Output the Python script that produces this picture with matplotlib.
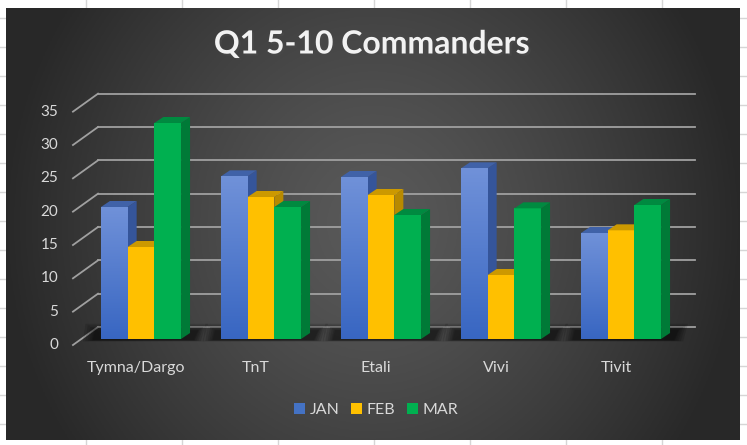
import numpy as np
import matplotlib.pyplot as plt
import matplotlib.patheffects as pe
from matplotlib.patches import Polygon

# data
categories = ["Tymna/Dargo", "TnT", "Etali", "Vivi", "Tivit"]
series = ["JAN", "FEB", "MAR"]
jan = [19.8, 24.4, 24.3, 25.6, 15.9]
feb = [13.8, 21.3, 21.6, 9.6, 16.3]
mar = [32.4, 19.8, 18.6, 19.6, 20.1]
y_ticks = [0, 5, 10, 15, 20, 25, 30, 35]

# styles: front, side, top
colors = {
    "JAN": ("#4472c4", "#35559a", "#4062a8"),
    "FEB": ("#ffc000", "#b88a00", "#cc9900"),
    "MAR": ("#00b050", "#007a37", "#008a40"),
}
jan_top, jan_bottom = np.array([0.44, 0.57, 0.85]), np.array([0.22, 0.40, 0.76])
text_col = "#d9d9d9"
grid_col = "#a0a0a0"
font = "Lato"

W, H = 747, 445
fig = plt.figure(figsize=(W / 100, H / 100), dpi=100)

# spreadsheet cells behind the chart
bg = fig.add_axes([0, 0, 1, 1])
bg.set_xlim(0, W)
bg.set_ylim(H, 0)
bg.axis("off")
for xc in np.arange(-10, W, 96):
    bg.axvline(xc, color="#d6d6d6", lw=1)
for yc in np.arange(18, H, 29):
    bg.axhline(yc, color="#d6d6d6", lw=1)

# chart area, pixels (6,8)-(740,440); data units: 120 px / category, 6.667 px / unit
px_cat, px_val = 120.0, 6.667
x0_px, y0_px = 141.0, 339.0
left, right, top, bottom = 6, 740, 8, 440
ax = fig.add_axes([left / W, (H - bottom) / H, (right - left) / W, (bottom - top) / H])
xlim = ((left - x0_px) / px_cat, (right - x0_px) / px_cat)
ylim = ((y0_px - bottom) / px_val, (y0_px - top) / px_val)

# dark radial gradient
gx, gy = np.meshgrid(np.linspace(-1, 1, 300), np.linspace(-1, 1, 200))
r = np.clip(np.sqrt(gx ** 2 + (0.55 * gy) ** 2), 0, 1)
shade = 0.35 - (0.35 - 0.16) * r ** 1.3
img = np.dstack([shade, shade, shade])
ax.imshow(img, extent=[xlim[0], xlim[1], ylim[0], ylim[1]], aspect="auto", zorder=0)

# depth geometry
front_dx, front_dy = -0.567, -0.9
back_dx0, back_dx1, back_dy = -0.358, 4.617, 1.8
bar_dx, bar_dy = 0.075, 0.9

for t in y_ticks:
    ax.plot([back_dx0, back_dx1], [t + back_dy] * 2, color=grid_col, lw=1.3, zorder=1)
    ax.plot([front_dx, back_dx0], [t + front_dy, t + back_dy], color=grid_col, lw=1.3, zorder=1)
    ax.text(-0.69, t + front_dy, str(t), ha="right", va="center", color=text_col,
            fontsize=11, family=font)

x = np.arange(len(categories))
w = 0.2225

# soft floor shadow under each group
for xi in x:
    xl, xr = xi - 1.5 * w, xi + 1.5 * w + bar_dx
    for grow in [0.09, 0.07, 0.05, 0.035, 0.02, 0.01]:
        gy_ = grow * 12
        ax.add_patch(Polygon([(xl - 0.06 - grow, -0.15 - gy_ * 0.2), (xr + 0.02 + grow, -0.15 - gy_ * 0.2),
                              (xr + 0.06 + grow, 1.2 + gy_), (xl - 0.04 - grow, 1.2 + gy_)],
                             closed=True, color="black", alpha=0.13, lw=0, zorder=2))

handles = []
for k, (name, vals) in enumerate(zip(series, [jan, feb, mar])):
    front, side, topc = colors[name]
    z = 3 + k
    bars = ax.bar(x + (k - 1) * w, vals, width=w, color=front, zorder=z, lw=0)
    handles.append(bars)
    for rect in bars:
        bx0, bw, bh = rect.get_x(), rect.get_width(), rect.get_height()
        bx1 = bx0 + bw
        ax.add_patch(Polygon([(bx1, 0), (bx1 + bar_dx, bar_dy), (bx1 + bar_dx, bh + bar_dy), (bx1, bh)],
                             closed=True, color=side, lw=0, zorder=z))
        ax.add_patch(Polygon([(bx0, bh), (bx1, bh), (bx1 + bar_dx, bh + bar_dy), (bx0 + bar_dx, bh + bar_dy)],
                             closed=True, color=topc, lw=0, zorder=z))
        if name == "JAN":
            grad = np.linspace(0, 1, 100)[:, None, None]
            gimg = jan_top + (jan_bottom - jan_top) * grad
            im = ax.imshow(gimg, extent=[bx0, bx1, 0, bh], aspect="auto", zorder=z)
            im.set_clip_path(rect)

for xi, cat in zip(x, categories):
    ax.text(xi - 0.042, -4.35, cat, ha="center", va="center", color=text_col,
            fontsize=11.5, family=font)

ax.set_xlim(*xlim)
ax.set_ylim(*ylim)
ax.axis("off")

fig.text(372 / W, 1 - 44 / H, "Q1 5-10 Commanders", ha="center", va="center",
         fontsize=23, weight="bold", color="#f2f2f2", family=font,
         path_effects=[pe.SimplePatchShadow(offset=(1.5, -1.5), alpha=0.7), pe.Normal()])

leg = ax.legend(handles, series, loc="center", bbox_to_anchor=(376 / W, 1 - 410 / H),
                bbox_transform=fig.transFigure, ncol=3, frameon=False,
                handlelength=0.7, handleheight=0.7, handletextpad=0.3, columnspacing=0.7,
                prop={"family": font, "size": 11.5})
for txt in leg.get_texts():
    txt.set_color(text_col)

fig.savefig("out.png", dpi=100)
